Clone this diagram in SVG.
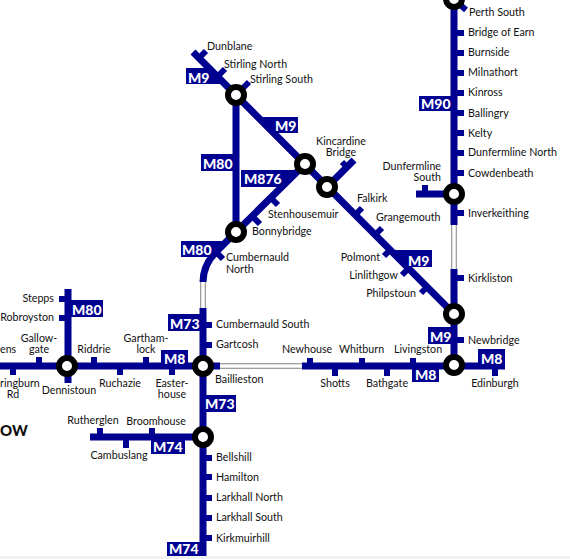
<svg xmlns="http://www.w3.org/2000/svg" width="570" height="559" viewBox="0 0 570 559">
<style>
.l{fill:none;stroke:#000091;stroke-width:7}
.t{fill:none;stroke:#000091;stroke-width:6}
.g{fill:none;stroke:#808080;stroke-width:5.5}
.w{fill:none;stroke:#fff;stroke-width:3.5}
.r{fill:#fff;stroke:#000;stroke-width:6}
.b{fill:#000091}
text{font-family:"Lato","Liberation Sans",sans-serif;font-size:10.7px;fill:#111}
.m{font-size:14px;font-weight:900;fill:#fff}
.c{text-anchor:middle}
.e{text-anchor:end}
</style>
<rect width="570" height="559" fill="#fff"/>
<g id="connectors">
<path class="b" d="M186 68H212L228 84H186ZM258 117H298V133H274ZM201 154H233V171H201ZM241 170H298L281 187H241ZM181 241H226L210 257H181ZM168 314H200V331H168ZM204 395H236V412H204ZM151 439H185V454H151ZM167 542H200V556H167ZM71 300H103V317H71ZM161 350H188V366H161ZM419 96H451V111H419ZM393 250H432V267H410ZM428 327H452V344H428ZM478 349H505V368H478ZM412 368H439V382H412Z"/>
<path class="l" d="M193 52L454 314M327 187L354 160M236 95V232L305 164"/>
<path class="l" d="M236 232L216 252Q203 265 203 282M203 308V556M0 366H220M302 366H505M68 289V383M454 0V225M454 269V372M90 437H203M416 194H454"/>
<path class="g" d="M203 282V308M220 366H302M454 225V269"/>
<path class="w" d="M203 282V308M220 366H302M454 225V269"/>
<path class="t" d="M199 58L206 51M217.500 76.500L225 69M236 95L249 82M347 167L342 162M355.500 214.500L362 208M375.500 234.500L382 228M390.500 249.500L384 256M409 268L402 275M427.500 286.500L421 293M271 198L278 205M252.500 216.500L260 224M215 251L223 259M456 1L466 10"/>
<path class="t" d="M454 33H464M454 53H464M454 73H464M454 93H464M454 113H464M454 133H464M454 153H464M454 173H464M454 213H464M454 278H464M454 340H464M203 325H212M203 345H212M203 458H212M203 477H212M203 498H212M203 518H212M203 538H212M68 299H59M68 318H59M39 366V357M94 366V357M146 366V357M13 366V375M120 366V375M172 366V375M100 437V428M152 437V428M126 437V448M310 366V358M362 366V358M413 366V358M335 366V376M387 366V376M495 366V376M425 194V185"/>
</g>
<g id="stations">
<circle class="r" cx="454" cy="-1" r="8"/><circle class="r" cx="454" cy="194" r="8"/><circle class="r" cx="454" cy="314" r="8"/><circle class="r" cx="454" cy="365" r="8"/><circle class="r" cx="327" cy="187" r="8"/><circle class="r" cx="305" cy="164" r="8"/><circle class="r" cx="236" cy="95" r="8"/><circle class="r" cx="236" cy="232" r="8"/><circle class="r" cx="203" cy="366" r="8"/><circle class="r" cx="203" cy="437" r="8"/><circle class="r" cx="67" cy="366" r="8"/>
</g>
<g id="labels">
<text class="m" x="188" y="83">M9</text><text class="m" x="275" y="131">M9</text><text class="m" x="203" y="169">M80</text><text class="m" x="244" y="184">M876</text><text class="m" x="182" y="255">M80</text><text class="m" x="170" y="329">M73</text><text class="m" x="205" y="409">M73</text><text class="m" x="153" y="452">M74</text><text class="m" x="169" y="554">M74</text><text class="m" x="72" y="315">M80</text><text class="m" x="164" y="364">M8</text><text class="m" x="421" y="109">M90</text><text class="m" x="408" y="266">M9</text><text class="m" x="430" y="342">M9</text><text class="m" x="481" y="364">M8</text><text class="m" x="415" y="380">M8</text>
<text x="207" y="50">Dunblane</text><text x="224" y="68">Stirling North</text><text x="250" y="83">Stirling South</text>
<text x="469" y="16">Perth South</text><text x="468" y="36">Bridge of Earn</text><text x="468" y="56">Burnside</text><text x="468" y="76">Milnathort</text><text x="468" y="96">Kinross</text><text x="468" y="117">Ballingry</text><text x="468" y="137">Kelty</text><text x="468" y="156">Dunfermline North</text><text x="468" y="177">Cowdenbeath</text><text x="468" y="217">Inverkeithing</text><text x="468" y="282">Kirkliston</text><text x="468" y="344">Newbridge</text>
<text class="c" x="341" y="145">Kincardine<tspan x="341" dy="11">Bridge</tspan></text>
<text class="e" x="441" y="170">Dunfermline<tspan x="441" dy="11">South</tspan></text>
<text x="357" y="202">Falkirk</text><text x="376" y="221">Grangemouth</text><text class="e" x="380" y="261">Polmont</text><text class="e" x="398" y="279">Linlithgow</text><text class="e" x="416" y="297">Philpstoun</text>
<text x="268" y="218">Stenhousemuir</text><text x="252" y="235">Bonnybridge</text><text x="226" y="261">Cumbernauld<tspan x="226" dy="12">North</tspan></text>
<text x="216" y="328">Cumbernauld South</text><text x="216" y="348">Gartcosh</text><text x="215" y="383">Baillieston</text>
<text x="282" y="353">Newhouse</text><text x="339" y="353">Whitburn</text><text x="394" y="353">Livingston</text><text class="c" x="335" y="387">Shotts</text><text class="c" x="387" y="387">Bathgate</text><text class="c" x="495" y="387">Edinburgh</text>
<text class="e" x="54" y="302">Stepps</text><text class="e" x="54" y="321">Robroyston</text><text class="c" x="39" y="342">Gallow-<tspan x="39" dy="11">gate</tspan></text><text class="c" x="94" y="353">Riddrie</text><text class="c" x="146" y="342">Gartham-<tspan x="146" dy="11">lock</tspan></text>
<text x="0" y="353">ens</text><text x="0" y="387">ringburn</text><text class="c" x="13" y="398">Rd</text><text class="c" x="69" y="394">Dennistoun</text><text class="c" x="120" y="387">Ruchazie</text><text class="c" x="172" y="387">Easter-<tspan x="172" dy="11">house</tspan></text>
<text class="c" x="93" y="424">Rutherglen</text><text class="c" x="156" y="425">Broomhouse</text><text class="c" x="119" y="459">Cambuslang</text>
<text x="216" y="461">Bellshill</text><text x="216" y="481">Hamilton</text><text x="216" y="501">Larkhall North</text><text x="216" y="521">Larkhall South</text><text x="216" y="542">Kirkmuirhill</text>
<text x="0" y="436" style="font-size:15px;font-weight:900">OW</text>
</g>
<rect x="0" y="556" width="570" height="3" fill="#f1f1f1"/>
</svg>
